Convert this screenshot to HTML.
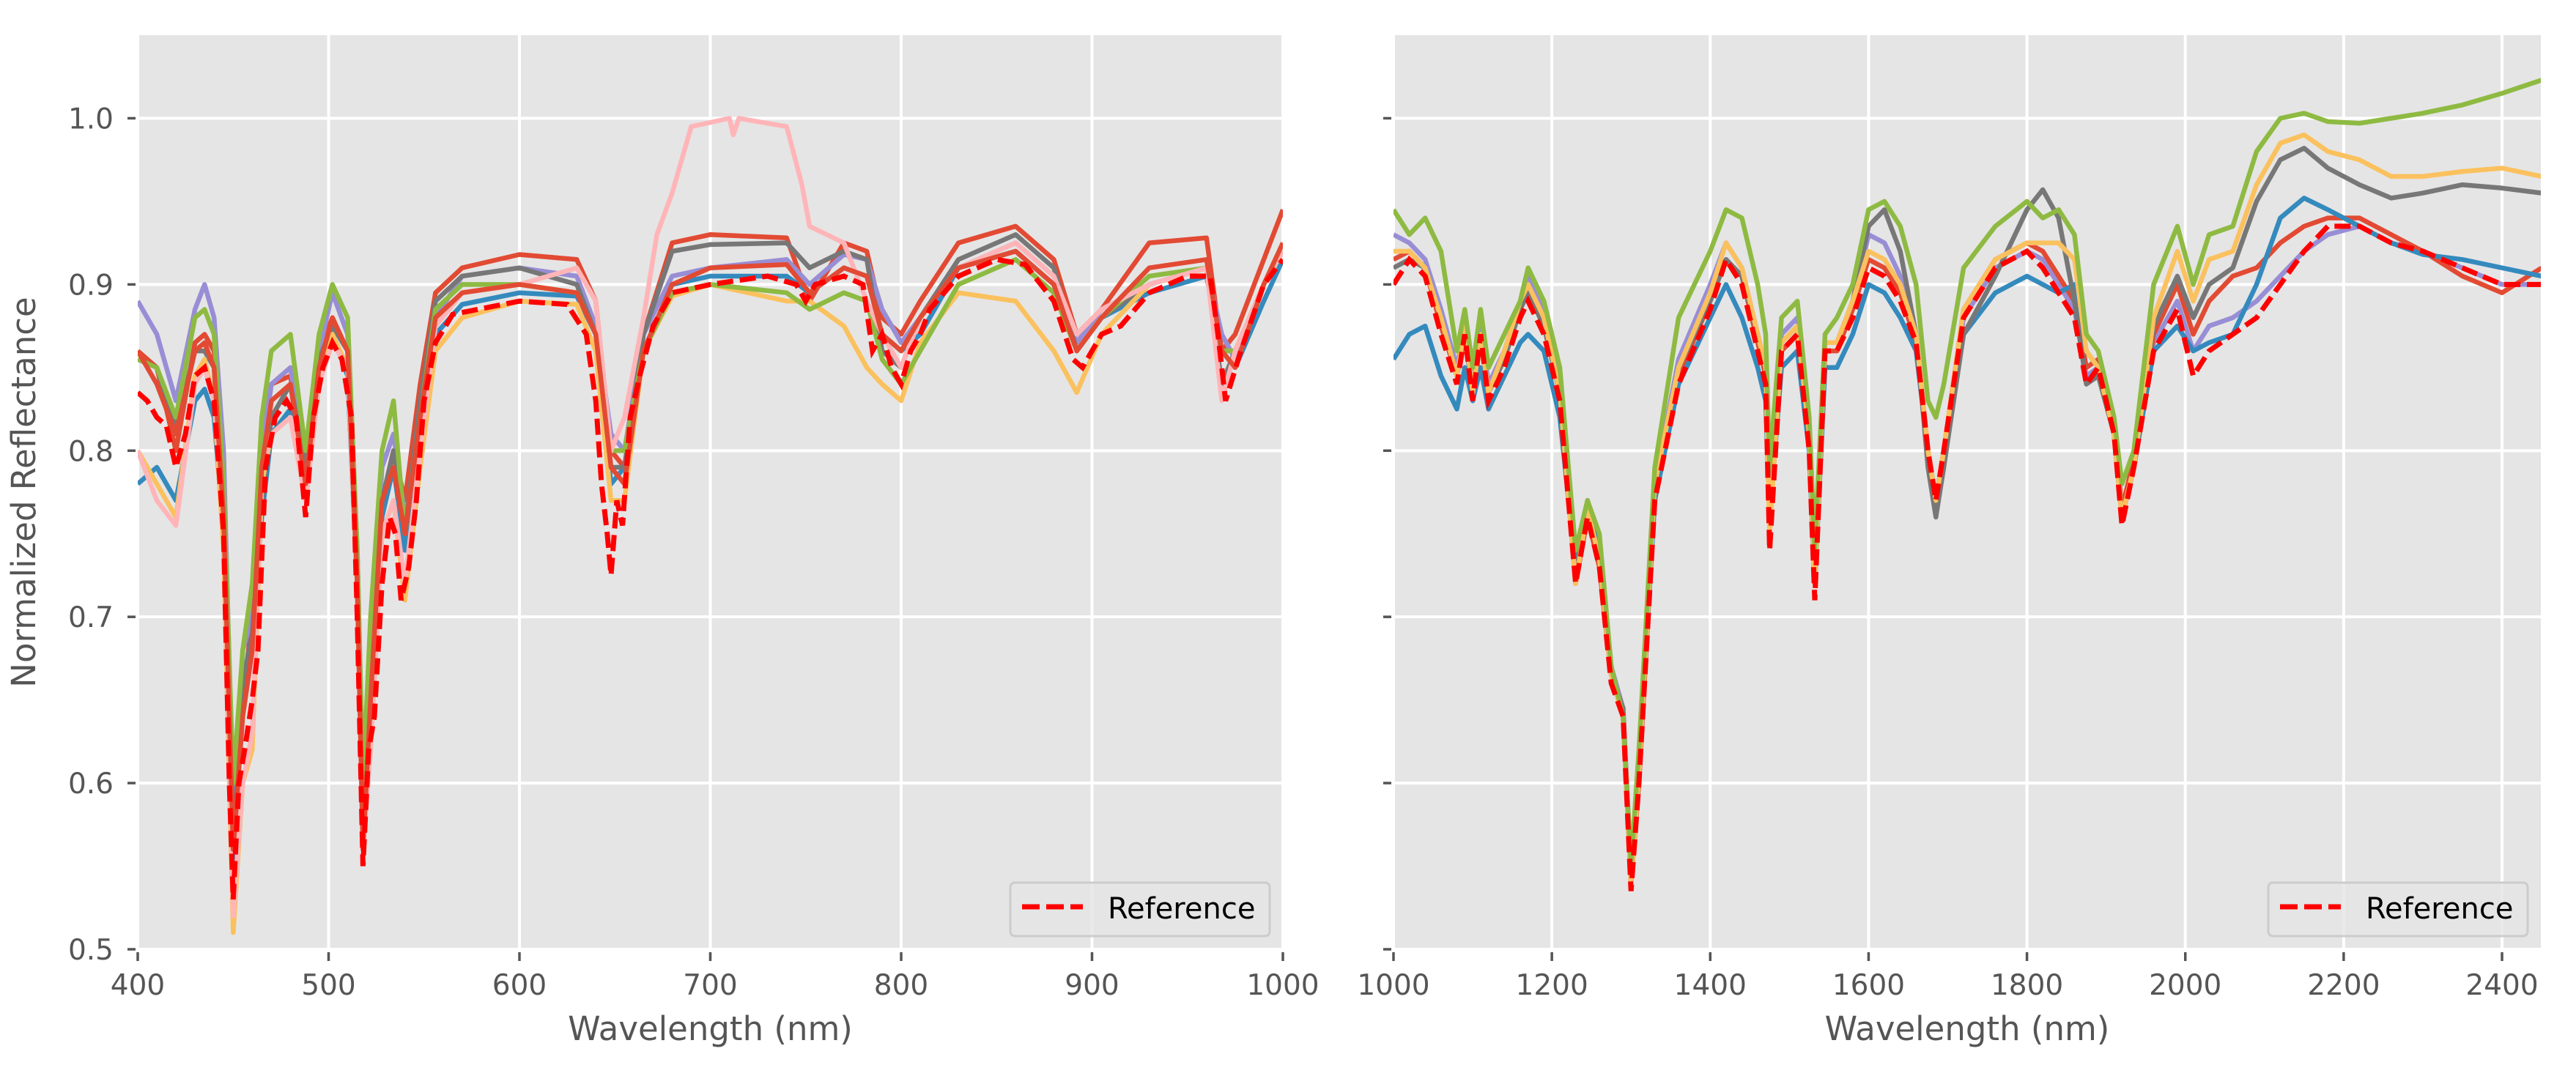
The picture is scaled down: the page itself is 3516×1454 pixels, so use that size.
<!DOCTYPE html>
<html><head><meta charset="utf-8"><style>
html,body{margin:0;padding:0;background:#fff}
svg{display:block}
text{font-family:"DejaVu Sans","Liberation Sans",sans-serif}
</style></head><body>
<svg id="chart" width="3516" height="1454" viewBox="0 0 3516 1454" xmlns="http://www.w3.org/2000/svg">
<g id="left"></g>
<g id="right"></g>
<text x="48" y="672" font-size="45" fill="#555" text-anchor="middle" transform="rotate(-90 48 672)">Normalized Reflectance</text>
</svg>
<script>
// ---- left panel data ----
const refWL = [400,405,410,415,420,425,430,435,440,445,448,450,453,456,460,463,467,472,478,483,488,492,497,502,507,512,515,518,521,524,528,532,535,538,542,546,550,556,565,600,625,635,640,643,646,648,651,654,658,663,670,680,700,730,745,750,755,770,780,785,790,795,800,805,810,815,830,850,865,880,890,895,905,915,930,950,962,966,970,978,990,1000];
const refL = [0.835,0.83,0.82,0.815,0.79,0.81,0.845,0.85,0.83,0.75,0.6,0.53,0.6,0.62,0.65,0.68,0.79,0.82,0.83,0.82,0.76,0.82,0.85,0.865,0.855,0.82,0.7,0.55,0.62,0.64,0.72,0.76,0.75,0.71,0.73,0.77,0.83,0.865,0.882,0.89,0.888,0.87,0.83,0.78,0.75,0.725,0.77,0.755,0.82,0.845,0.875,0.895,0.9,0.905,0.9,0.89,0.9,0.905,0.9,0.86,0.87,0.85,0.84,0.86,0.87,0.885,0.905,0.915,0.912,0.89,0.855,0.85,0.87,0.875,0.895,0.905,0.905,0.87,0.83,0.86,0.9,0.915];
const wlL = [400,410,420,430,435,440,445,450,455,460,465,470,480,488,495,502,510,515,518,522,528,534,540,548,556,570,600,630,640,648,655,665,680,700,740,752,770,782,790,800,810,830,860,880,892,905,930,960,968,975,990,1000];
const redL = [0.86,0.85,0.8,0.865,0.87,0.86,0.77,0.57,0.65,0.7,0.8,0.84,0.845,0.79,0.86,0.88,0.86,0.73,0.57,0.66,0.77,0.8,0.77,0.84,0.895,0.91,0.918,0.915,0.89,0.8,0.79,0.87,0.925,0.93,0.928,0.89,0.925,0.92,0.88,0.87,0.89,0.925,0.935,0.915,0.87,0.885,0.925,0.928,0.86,0.87,0.915,0.945];
const blueL = [0.78,0.79,0.77,0.83,0.837,0.82,0.75,0.55,0.66,0.69,0.76,0.81,0.825,0.78,0.84,0.87,0.845,0.72,0.57,0.66,0.76,0.79,0.74,0.8,0.87,0.888,0.895,0.893,0.87,0.78,0.79,0.86,0.9,0.905,0.905,0.895,0.91,0.905,0.87,0.86,0.87,0.91,0.92,0.9,0.86,0.88,0.895,0.905,0.86,0.85,0.89,0.915];
const purpleL = [0.89,0.87,0.83,0.885,0.9,0.88,0.8,0.58,0.68,0.7,0.8,0.84,0.85,0.79,0.86,0.895,0.87,0.74,0.6,0.68,0.79,0.81,0.76,0.8,0.88,0.905,0.91,0.905,0.875,0.81,0.8,0.87,0.905,0.91,0.915,0.9,0.918,0.915,0.885,0.865,0.88,0.91,0.925,0.905,0.865,0.885,0.9,0.91,0.87,0.855,0.9,0.92];
const grayL = [0.855,0.85,0.815,0.86,0.86,0.85,0.76,0.56,0.66,0.69,0.77,0.82,0.84,0.79,0.855,0.875,0.86,0.73,0.56,0.64,0.77,0.8,0.75,0.83,0.89,0.905,0.91,0.9,0.87,0.79,0.79,0.87,0.92,0.924,0.925,0.91,0.92,0.915,0.86,0.85,0.88,0.915,0.93,0.91,0.86,0.88,0.9,0.91,0.84,0.86,0.9,0.92];
const yellowL = [0.8,0.78,0.76,0.845,0.855,0.83,0.74,0.51,0.6,0.62,0.78,0.81,0.82,0.77,0.84,0.87,0.85,0.72,0.57,0.62,0.75,0.77,0.71,0.79,0.86,0.88,0.89,0.888,0.86,0.77,0.77,0.86,0.893,0.9,0.89,0.89,0.875,0.85,0.84,0.83,0.865,0.895,0.89,0.86,0.835,0.87,0.9,0.91,0.86,0.86,0.9,0.92];
const greenL = [0.855,0.85,0.82,0.88,0.885,0.87,0.78,0.6,0.68,0.72,0.82,0.86,0.87,0.8,0.87,0.9,0.88,0.74,0.6,0.7,0.8,0.83,0.75,0.82,0.885,0.9,0.9,0.895,0.87,0.8,0.8,0.86,0.895,0.9,0.895,0.885,0.895,0.89,0.855,0.84,0.86,0.9,0.915,0.895,0.86,0.88,0.905,0.91,0.86,0.86,0.9,0.92];
const pinkWL = [400,410,420,430,435,440,445,450,455,460,465,470,480,488,495,502,510,515,518,522,528,534,540,548,556,570,600,630,640,648,655,665,672,680,690,710,712,715,740,748,752,770,782,790,800,810,830,860,880,892,905,930,960,968,975,990,1000];
const pinkL = [0.8,0.77,0.755,0.84,0.85,0.83,0.76,0.52,0.6,0.63,0.79,0.81,0.82,0.77,0.84,0.865,0.85,0.72,0.56,0.62,0.75,0.77,0.72,0.8,0.875,0.895,0.9,0.91,0.89,0.8,0.82,0.88,0.93,0.955,0.995,1.0,0.99,1.0,0.995,0.96,0.935,0.925,0.89,0.87,0.85,0.88,0.91,0.925,0.905,0.87,0.885,0.9,0.91,0.83,0.86,0.9,0.92];
const red2L = [0.86,0.84,0.81,0.86,0.865,0.85,0.76,0.56,0.64,0.68,0.79,0.83,0.84,0.78,0.85,0.88,0.86,0.72,0.56,0.65,0.77,0.79,0.75,0.82,0.88,0.895,0.9,0.895,0.87,0.79,0.78,0.86,0.9,0.91,0.912,0.895,0.91,0.905,0.87,0.86,0.88,0.91,0.92,0.9,0.86,0.88,0.91,0.915,0.86,0.85,0.9,0.925];
// ---- right panel data ----
const wlR = [1000,1020,1040,1060,1080,1090,1100,1110,1120,1140,1160,1170,1190,1210,1230,1245,1260,1275,1290,1300,1310,1330,1360,1400,1420,1440,1460,1470,1475,1490,1510,1525,1532,1545,1560,1580,1600,1620,1640,1660,1675,1685,1695,1720,1760,1800,1820,1840,1860,1875,1890,1910,1920,1935,1960,1990,2010,2030,2060,2090,2120,2150,2180,2220,2260,2300,2350,2400,2450];
const refR = [0.9,0.915,0.905,0.87,0.84,0.87,0.83,0.87,0.83,0.85,0.88,0.89,0.87,0.83,0.72,0.76,0.73,0.66,0.64,0.535,0.6,0.77,0.84,0.885,0.915,0.9,0.86,0.84,0.74,0.86,0.87,0.8,0.71,0.86,0.86,0.88,0.91,0.905,0.89,0.865,0.8,0.77,0.8,0.88,0.91,0.92,0.91,0.895,0.88,0.84,0.85,0.81,0.755,0.79,0.86,0.885,0.845,0.86,0.87,0.88,0.9,0.92,0.935,0.935,0.925,0.92,0.91,0.9,0.9];
const blueR = [0.855,0.87,0.875,0.845,0.825,0.85,0.83,0.85,0.825,0.845,0.865,0.87,0.86,0.82,0.73,0.77,0.74,0.67,0.64,0.55,0.61,0.77,0.84,0.88,0.9,0.88,0.85,0.83,0.76,0.85,0.86,0.8,0.72,0.85,0.85,0.87,0.9,0.895,0.88,0.86,0.8,0.77,0.8,0.87,0.895,0.905,0.9,0.895,0.9,0.86,0.85,0.81,0.76,0.79,0.86,0.875,0.86,0.865,0.87,0.9,0.94,0.952,0.945,0.935,0.925,0.918,0.915,0.91,0.905];
const greenR = [0.945,0.93,0.94,0.92,0.86,0.885,0.85,0.885,0.85,0.87,0.89,0.91,0.89,0.85,0.74,0.77,0.75,0.67,0.64,0.55,0.62,0.79,0.88,0.92,0.945,0.94,0.9,0.87,0.79,0.88,0.89,0.82,0.74,0.87,0.88,0.9,0.945,0.95,0.935,0.9,0.83,0.82,0.84,0.91,0.935,0.95,0.94,0.945,0.93,0.87,0.86,0.82,0.78,0.8,0.9,0.935,0.9,0.93,0.935,0.98,1.0,1.003,0.998,0.997,1.0,1.003,1.008,1.015,1.023];
const grayR = [0.91,0.915,0.91,0.88,0.845,0.87,0.835,0.87,0.835,0.855,0.885,0.895,0.875,0.835,0.725,0.765,0.735,0.665,0.645,0.54,0.605,0.78,0.85,0.89,0.915,0.905,0.87,0.85,0.76,0.865,0.875,0.81,0.72,0.865,0.865,0.89,0.935,0.945,0.92,0.87,0.79,0.76,0.79,0.87,0.905,0.945,0.957,0.94,0.89,0.84,0.845,0.81,0.76,0.79,0.875,0.905,0.88,0.9,0.91,0.95,0.975,0.982,0.97,0.96,0.952,0.955,0.96,0.958,0.955];
const yellowR = [0.92,0.92,0.91,0.88,0.845,0.875,0.835,0.87,0.835,0.86,0.89,0.9,0.88,0.835,0.72,0.765,0.735,0.665,0.64,0.54,0.605,0.78,0.85,0.895,0.925,0.91,0.87,0.85,0.75,0.865,0.875,0.81,0.72,0.865,0.865,0.89,0.92,0.915,0.9,0.87,0.8,0.77,0.8,0.885,0.915,0.925,0.925,0.925,0.915,0.86,0.85,0.81,0.76,0.79,0.88,0.92,0.89,0.915,0.92,0.96,0.985,0.99,0.98,0.975,0.965,0.965,0.968,0.97,0.965];
const purpleR = [0.93,0.925,0.915,0.885,0.85,0.875,0.84,0.875,0.84,0.86,0.89,0.905,0.885,0.84,0.73,0.77,0.74,0.67,0.645,0.545,0.61,0.78,0.855,0.9,0.925,0.91,0.87,0.85,0.77,0.87,0.88,0.81,0.72,0.865,0.865,0.885,0.93,0.925,0.905,0.87,0.8,0.77,0.8,0.88,0.91,0.92,0.915,0.9,0.885,0.845,0.85,0.81,0.76,0.79,0.865,0.89,0.86,0.875,0.88,0.89,0.905,0.92,0.93,0.935,0.925,0.92,0.91,0.9,0.9];
const redR = [0.915,0.92,0.91,0.875,0.845,0.875,0.835,0.87,0.835,0.855,0.885,0.895,0.875,0.835,0.72,0.76,0.73,0.665,0.64,0.54,0.6,0.775,0.845,0.89,0.915,0.905,0.865,0.845,0.76,0.86,0.87,0.805,0.72,0.86,0.86,0.885,0.915,0.91,0.895,0.865,0.8,0.77,0.8,0.885,0.915,0.925,0.92,0.905,0.89,0.85,0.855,0.815,0.765,0.795,0.87,0.9,0.87,0.89,0.905,0.91,0.925,0.935,0.94,0.94,0.93,0.92,0.905,0.895,0.91];

const colors = {red:'#E24A33',blue:'#348ABD',purple:'#988ED5',gray:'#777777',yellow:'#FBC15E',green:'#8EBA42',pink:'#FFB5B8'};
const NS='http://www.w3.org/2000/svg';
const TOP=48, BOT=1296, Y0=0.5, Y1=1.05;
function yS(v){return BOT-(v-Y0)/(Y1-Y0)*(BOT-TOP);}
function mk(tag,attrs,parent){const e=document.createElementNS(NS,tag);for(const k in attrs)e.setAttribute(k,attrs[k]);parent.appendChild(e);return e;}

function panel(g,L,R,x0,x1,xticks,showY,series,refWl,refVals,legendX){
  const xS=v=>L+(v-x0)/(x1-x0)*(R-L);
  const bg=mk('rect',{x:L,y:TOP,width:R-L,height:BOT-TOP,fill:'#E5E5E5'},g);
  
  
  const yt=[0.5,0.6,0.7,0.8,0.9,1.0];
  yt.forEach(v=>{
    const gl=mk('line',{x1:L,x2:R,y1:yS(v),y2:yS(v),stroke:'#fff','stroke-width':4},g);
    
    
    const tk=mk('line',{x1:L-14,x2:L-3,y1:yS(v),y2:yS(v),stroke:'#555','stroke-width':3.5},g);
    
    
    if(showY){
      const t=mk('text',{x:L-33,y:yS(v)+14,'font-size':39,fill:'#555','text-anchor':'end'},g);
      t.textContent=v.toFixed(1);
      
      
    }
  });
  xticks.forEach(v=>{
    const gl=mk('line',{x1:xS(v),x2:xS(v),y1:TOP,y2:BOT,stroke:'#fff','stroke-width':4},g);
    
    
    const tk=mk('line',{x1:xS(v),x2:xS(v),y1:BOT+4,y2:BOT+16,stroke:'#555','stroke-width':3.5},g);
    
    
    const t=mk('text',{x:xS(v),y:1358,'font-size':39,fill:'#555','text-anchor':'middle'},g);
    t.textContent=String(v);
    
    
  });
  const clip=mk('clipPath',{id:'c'+L},g);
  mk('rect',{x:L,y:TOP,width:R-L,height:BOT-TOP},clip);
  const lg=mk('g',{'clip-path':'url(#c'+L+')'},g);
  
  
  series.forEach(s=>{
    const d=s.vals.map((v,i)=>(i?'L':'M')+xS(s.wl[i]).toFixed(1)+','+yS(v).toFixed(1)).join('');
    const p=mk('path',{d:d,fill:'none',stroke:s.color,'stroke-width':6.5,'stroke-linejoin':'round'},lg);
    
    
  });
  const rd=refVals.map((v,i)=>(i?'L':'M')+xS(refWl[i]).toFixed(1)+','+yS(v).toFixed(1)).join('');
  const rp=mk('path',{d:rd,fill:'none',stroke:'#FF0000','stroke-width':7,'stroke-dasharray':'22 9'},lg);
  
  
  // legend
  const leg=mk('g',{},g);
  
  
  mk('rect',{x:legendX,y:1205,width:354,height:73,rx:6,fill:'#E5E5E5','fill-opacity':0.8,stroke:'#CCCCCC','stroke-width':3},leg);
  mk('line',{x1:legendX+16,x2:legendX+99,y1:1238,y2:1238,stroke:'#FF0000','stroke-width':7,'stroke-dasharray':'24 9'},leg);
  const lt=mk('text',{x:legendX+133,y:1254,'font-size':40,fill:'#000'},leg);
  lt.textContent='Reference';
  
  
  const xl=mk('text',{x:(L+R)/2,y:1420,'font-size':45,fill:'#555','text-anchor':'middle'},g);
  xl.textContent='Wavelength (nm)';
  
  
}

panel(document.getElementById('left'),188,1751,400,1000,[400,500,600,700,800,900,1000],true,[
 {name:'red',color:colors.red,wl:wlL,vals:redL},
 {name:'blue',color:colors.blue,wl:wlL,vals:blueL},
 {name:'purple',color:colors.purple,wl:wlL,vals:purpleL},
 {name:'gray',color:colors.gray,wl:wlL,vals:grayL},
 {name:'yellow',color:colors.yellow,wl:wlL,vals:yellowL},
 {name:'green',color:colors.green,wl:wlL,vals:greenL},
 {name:'pink',color:colors.pink,wl:pinkWL,vals:pinkL},
 {name:'red-2',color:colors.red,wl:wlL,vals:red2L}
],refWL,refL,1379);

panel(document.getElementById('right'),1902,3468,1000,2449,[1000,1200,1400,1600,1800,2000,2200,2400],false,[
 {name:'purple',color:colors.purple,wl:wlR,vals:purpleR},
 {name:'red',color:colors.red,wl:wlR,vals:redR},
 {name:'blue',color:colors.blue,wl:wlR,vals:blueR},
 {name:'gray',color:colors.gray,wl:wlR,vals:grayR},
 {name:'yellow',color:colors.yellow,wl:wlR,vals:yellowR},
 {name:'green',color:colors.green,wl:wlR,vals:greenR}
],wlR,refR,3096);
</script>
</body></html>
